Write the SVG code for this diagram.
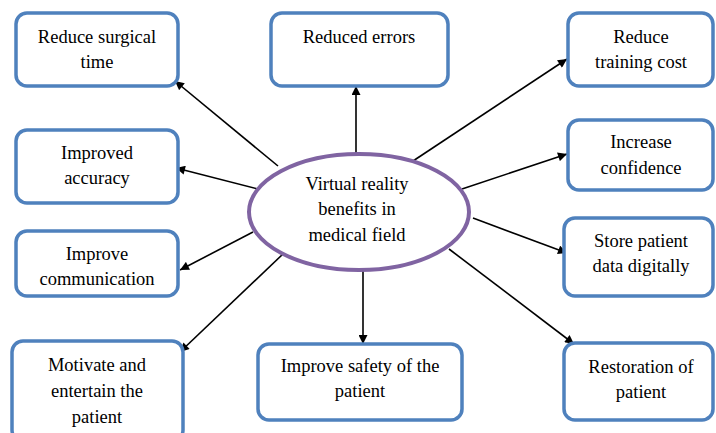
<svg xmlns="http://www.w3.org/2000/svg" width="716" height="433" viewBox="0 0 716 433">
<style>
.box{fill:#fff;stroke:#4F81BD;stroke-width:3.5}
.t{font-family:"Liberation Serif","Times New Roman",serif;font-size:18.5px;fill:#000;text-anchor:middle}
.c{stroke:#000;stroke-width:1.6;fill:none;marker-end:url(#ah)}
</style>
<defs>
<marker id="ah" viewBox="0 0 10 10" refX="10" refY="5" markerWidth="10" markerHeight="9" markerUnits="userSpaceOnUse" orient="auto">
<path d="M0,0 L10,5 L0,10 z" fill="#000"/>
</marker>
</defs>
<rect width="716" height="433" fill="#fff"/>
<g id="connectors">
<line class="c" x1="278" y1="166" x2="175" y2="81"/>
<line class="c" x1="258" y1="189" x2="176" y2="168"/>
<line class="c" x1="356" y1="153" x2="356" y2="86"/>
<line class="c" x1="413" y1="161" x2="567" y2="59"/>
<line class="c" x1="462" y1="189" x2="567" y2="154"/>
<line class="c" x1="253" y1="232" x2="180" y2="270"/>
<line class="c" x1="283" y1="254" x2="180" y2="352"/>
<line class="c" x1="363" y1="271" x2="363" y2="344"/>
<line class="c" x1="473" y1="218" x2="567" y2="253"/>
<line class="c" x1="449" y1="249" x2="574" y2="344"/>
</g>
<g id="center">
<ellipse cx="359" cy="212" rx="110" ry="58" fill="#fff" stroke="#8064A2" stroke-width="4"/>
<text class="t" x="357" y="190">Virtual reality</text>
<text class="t" x="357" y="215">benefits in</text>
<text class="t" x="357" y="241">medical field</text>
</g>
<g id="n1">
<rect class="box" x="16" y="13" width="162" height="73" rx="11"/>
<text class="t" x="97" y="43">Reduce surgical</text>
<text class="t" x="97" y="68">time</text>
</g>
<g id="n2">
<rect class="box" x="271" y="13" width="177" height="73" rx="11"/>
<text class="t" x="359" y="43">Reduced errors</text>
</g>
<g id="n3">
<rect class="box" x="568" y="13" width="145" height="73" rx="11"/>
<text class="t" x="641" y="43">Reduce</text>
<text class="t" x="641" y="68">training cost</text>
</g>
<g id="n4">
<rect class="box" x="16" y="130" width="162" height="73" rx="11"/>
<text class="t" x="97" y="159">Improved</text>
<text class="t" x="97" y="184">accuracy</text>
</g>
<g id="n5">
<rect class="box" x="568" y="120" width="145" height="70" rx="11"/>
<text class="t" x="641" y="148">Increase</text>
<text class="t" x="641" y="174">confidence</text>
</g>
<g id="n6">
<rect class="box" x="16" y="231" width="162" height="65" rx="11"/>
<text class="t" x="97" y="260">Improve</text>
<text class="t" x="97" y="285">communication</text>
</g>
<g id="n7">
<rect class="box" x="564" y="218" width="149" height="78" rx="11"/>
<text class="t" x="641" y="247">Store patient</text>
<text class="t" x="641" y="272">data digitally</text>
</g>
<g id="n8">
<rect class="box" x="12" y="341" width="171" height="100" rx="11"/>
<text class="t" x="97" y="371">Motivate and</text>
<text class="t" x="97" y="397">entertain the</text>
<text class="t" x="97" y="423">patient</text>
</g>
<g id="n9">
<rect class="box" x="258" y="344" width="204" height="76" rx="11"/>
<text class="t" x="360" y="372">Improve safety of the</text>
<text class="t" x="360" y="397">patient</text>
</g>
<g id="n10">
<rect class="box" x="564" y="343" width="149" height="77" rx="11"/>
<text class="t" x="641" y="373">Restoration of</text>
<text class="t" x="641" y="398">patient</text>
</g>
</svg>
